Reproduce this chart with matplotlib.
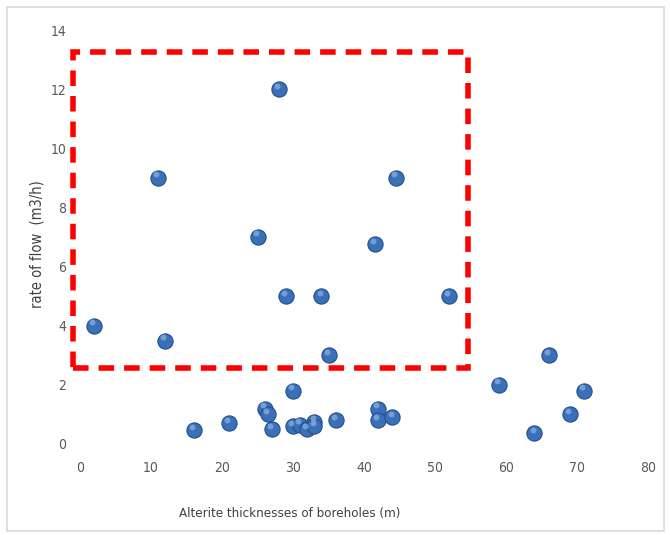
import matplotlib
matplotlib.use('Agg')
import matplotlib.pyplot as plt
from matplotlib.patches import Rectangle

# Datos
espesor = [2, 11, 12, 25, 28, 29, 34, 35, 41.5, 44.5, 52,
           16, 21, 26, 26.5, 27, 30, 30, 31, 32, 33, 33, 36,
           42, 42, 44, 59, 64, 66, 69, 71]
caudal = [4.0, 9.0, 3.5, 7.0, 12.0, 5.0, 5.0, 3.0, 6.75, 9.0, 5.0,
          0.47, 0.7, 1.2, 1.0, 0.5, 1.8, 0.6, 0.65, 0.5, 0.75, 0.6, 0.8,
          1.2, 0.8, 0.9, 2.0, 0.37, 3.0, 1.0, 1.8]
xticks = [0, 10, 20, 30, 40, 50, 60, 70, 80]
yticks = [0, 2, 4, 6, 8, 10, 12, 14]
zona = (-1, 2.57, 55.6, 10.67)  # x, y, ancho, alto del recuadro

plt.rcParams['font.family'] = ['Liberation Sans Narrow', 'DejaVu Sans']
plt.rcParams['font.stretch'] = 'condensed'

fig = plt.figure(figsize=(6.7, 5.35), dpi=100)
fig.patches.append(Rectangle((0.011, 0.008), 0.98, 0.979, transform=fig.transFigure,
                             fill=False, edgecolor='#d9d9d9', linewidth=1.2))
ax = fig.add_axes([0.1194, 0.1701, 0.8478, 0.7738])

ax.scatter(espesor, caudal, s=120, color='#3b70b8', edgecolors='#20508f',
           linewidths=0.8, zorder=3)
ax.scatter([e - 0.25 for e in espesor], [c + 0.12 for c in caudal], s=18,
           color='#8fb3e3', alpha=0.7, linewidths=0, zorder=4)

ax.add_patch(Rectangle(zona[:2], zona[2], zona[3], fill=False, edgecolor='#ff0000',
                       linewidth=4, linestyle=(0, (2.8, 1.8)), clip_on=False, zorder=5))

ax.set_xlim(0, 80)
ax.set_ylim(0, 14)
ax.set_xticks(xticks)
ax.set_yticks(yticks)
for s in ax.spines.values():
    s.set_visible(False)
ax.tick_params(length=0, labelsize=10, colors='#595959')
ax.tick_params(axis='x', pad=12)
ax.tick_params(axis='y', pad=10)
ax.set_xlabel('Alterite thicknesses of boreholes (m)', fontsize=9.5, color='#404040')
ax.set_ylabel('rate of flow  (m3/h)', fontsize=10.5, color='#404040')
ax.xaxis.set_label_coords(0.37, -0.152)
ax.yaxis.set_label_coords(-0.062, 0.483)

fig.savefig('out.png', dpi=100)
